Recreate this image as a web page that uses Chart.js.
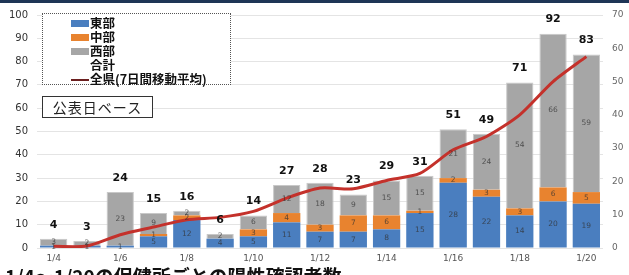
<!DOCTYPE html>
<html><head><meta charset="utf-8">
<script src="https://cdn.jsdelivr.net/npm/chart.js@4.4.1/dist/chart.umd.min.js"></script>
<style>
html,body{margin:0;padding:0;background:#fff;overflow:hidden;}
#wrap{position:relative;width:629px;height:275px;overflow:hidden;font-family:"Noto Sans CJK JP","Noto Sans",sans-serif;}
#topband{position:absolute;left:0;top:0;width:629px;height:3px;background:#1e3556;}
#legend{position:absolute;left:42px;top:13px;width:189px;height:72px;border:1px dotted #555;background:#fff;box-sizing:border-box;}
.li{position:absolute;left:28px;height:14px;line-height:14px;font-size:12.5px;font-weight:bold;color:#111;white-space:nowrap;}
.sw{display:inline-block;width:18px;height:7px;vertical-align:middle;margin-right:1px;position:relative;top:-1px;}
.ln{display:inline-block;width:18px;height:2px;background:#6b1f1f;vertical-align:middle;margin-right:1px;position:relative;top:-1px;}
#basis{position:absolute;left:42px;top:96px;width:111px;height:22px;border:1px solid #333;background:#fff;box-sizing:border-box;font-size:14px;line-height:20px;text-align:center;color:#222;letter-spacing:1px;}
#caption{position:absolute;left:5px;top:262px;font-size:19px;font-weight:bold;color:#111;white-space:nowrap;}
</style></head>
<body><div id="wrap">
<canvas id="c" width="629" height="275"></canvas>
<div id="topband"></div>
<div id="legend">
 <div class="li" style="top:2px"><span class="sw" style="background:#4a7ebf"></span>東部</div>
 <div class="li" style="top:16px"><span class="sw" style="background:#e8832f"></span>中部</div>
 <div class="li" style="top:30px"><span class="sw" style="background:#a6a6a6"></span>西部</div>
 <div class="li" style="top:44px"><span class="sw" style="background:transparent"></span>合計</div>
 <div class="li" style="top:58px"><span class="ln"></span>全県(7日間移動平均)</div>
</div>
<div id="basis">公表日ベース</div>
<div id="caption">1/4～1/20の保健所ごとの陽性確認者数</div>
</div>
<script>
const categories = ['1/4','1/5','1/6','1/7','1/8','1/9','1/10','1/11','1/12','1/13','1/14','1/15','1/16','1/17','1/18','1/19','1/20'];
const east    = [1,1,1,5,12,4,5,11,7,7,8,15,28,22,14,20,19];
const central = [0,0,0,1,2,0,3,4,3,7,6,1,2,3,3,6,5];
const west    = [3,2,23,9,2,2,6,12,18,9,15,15,21,24,54,66,59];
const totals  = [4,3,24,15,16,6,14,27,28,23,29,31,51,49,71,92,83];
const movingAvg = [0.5,0.6,4,6.3,8.5,9.2,11,15,18,17.8,20.3,22.4,29.5,33.5,40,50,57.5];
const leftTicks = [0,10,20,30,40,50,60,70,80,90,100];
const rightTicks = [0,10,20,30,40,50,60,70];

const labelPlugin = {
  id:'labels',
  afterDatasetsDraw(chart){
    const ctx = chart.ctx;
    ctx.save();
    ctx.textAlign='center';ctx.textBaseline='middle';
    ctx.font='7.5px "DejaVu Sans", sans-serif';
    ctx.fillStyle='rgba(50,50,50,0.75)';
    [0,1,2].forEach(di=>{
      const meta = chart.getDatasetMeta(di);
      meta.data.forEach((bar,i)=>{
        const v = chart.data.datasets[di].data[i];
        if(!v) return;
        const y = (bar.y + bar.base)/2;
        ctx.fillText(String(v), bar.x, Math.min(y, 247));
      });
    });
    ctx.font='bold 11px "DejaVu Sans", sans-serif';
    ctx.fillStyle='#111';
    const ys = chart.scales.y;
    const meta0 = chart.getDatasetMeta(0);
    meta0.data.forEach((bar,i)=>{
      const y = ys.getPixelForValue(totals[i]);
      ctx.fillText(String(totals[i]), bar.x, y-14);
    });
    ctx.restore();
  }
};

new Chart(document.getElementById('c'),{
  type:'bar',
  data:{
    labels:categories,
    datasets:[
      {label:'東部',data:east,backgroundColor:'#4a7ebf',stack:'s',order:1,categoryPercentage:0.82,barPercentage:1,yAxisID:'y'},
      {label:'中部',data:central,backgroundColor:'#e8832f',stack:'s',order:1,categoryPercentage:0.82,barPercentage:1,yAxisID:'y'},
      {label:'西部',data:west,backgroundColor:'#a6a6a6',borderColor:'#c8c8c8',borderWidth:{top:1,left:1,right:1,bottom:0},stack:'s',order:1,categoryPercentage:0.82,barPercentage:1,yAxisID:'y'},
      {type:'line',label:'全県(7日間移動平均)',data:movingAvg,borderColor:'#c4312b',borderWidth:3,pointRadius:0,tension:0.25,yAxisID:'y1',order:0}
    ]
  },
  options:{
    responsive:false,animation:false,
    layout:{padding:{top:13,left:0,right:0,bottom:0}},
    plugins:{legend:{display:false},tooltip:{enabled:false}},
    scales:{
      x:{stacked:true,grid:{display:false,drawTicks:false},border:{display:false},
         ticks:{autoSkip:false,maxRotation:0,padding:5,color:'#555',font:{size:9,family:'"DejaVu Sans", sans-serif'},
           callback:function(v,i){return i%2===0?categories[i]:'';}},
         afterFit:s=>{s.height=27;}},
      y:{stacked:true,min:0,max:100,position:'left',
         afterBuildTicks:s=>{s.ticks=leftTicks.map(v=>({value:v}));},
         grid:{color:'#e4e4e4',lineWidth:1,drawTicks:false},border:{display:false},
         ticks:{padding:9,color:'#333',font:{size:10,family:'"DejaVu Sans", sans-serif'}},
         afterFit:s=>{s.width=37;}},
      y1:{min:0,max:70,position:'right',
         afterBuildTicks:s=>{s.ticks=rightTicks.map(v=>({value:v}));},
         grid:{drawOnChartArea:false,drawTicks:false},border:{display:false},
         ticks:{padding:9,color:'#666',font:{size:9,family:'"DejaVu Sans", sans-serif'}},
         afterFit:s=>{s.width=26;}}
    }
  },
  plugins:[labelPlugin]
});
</script>
</body></html>
